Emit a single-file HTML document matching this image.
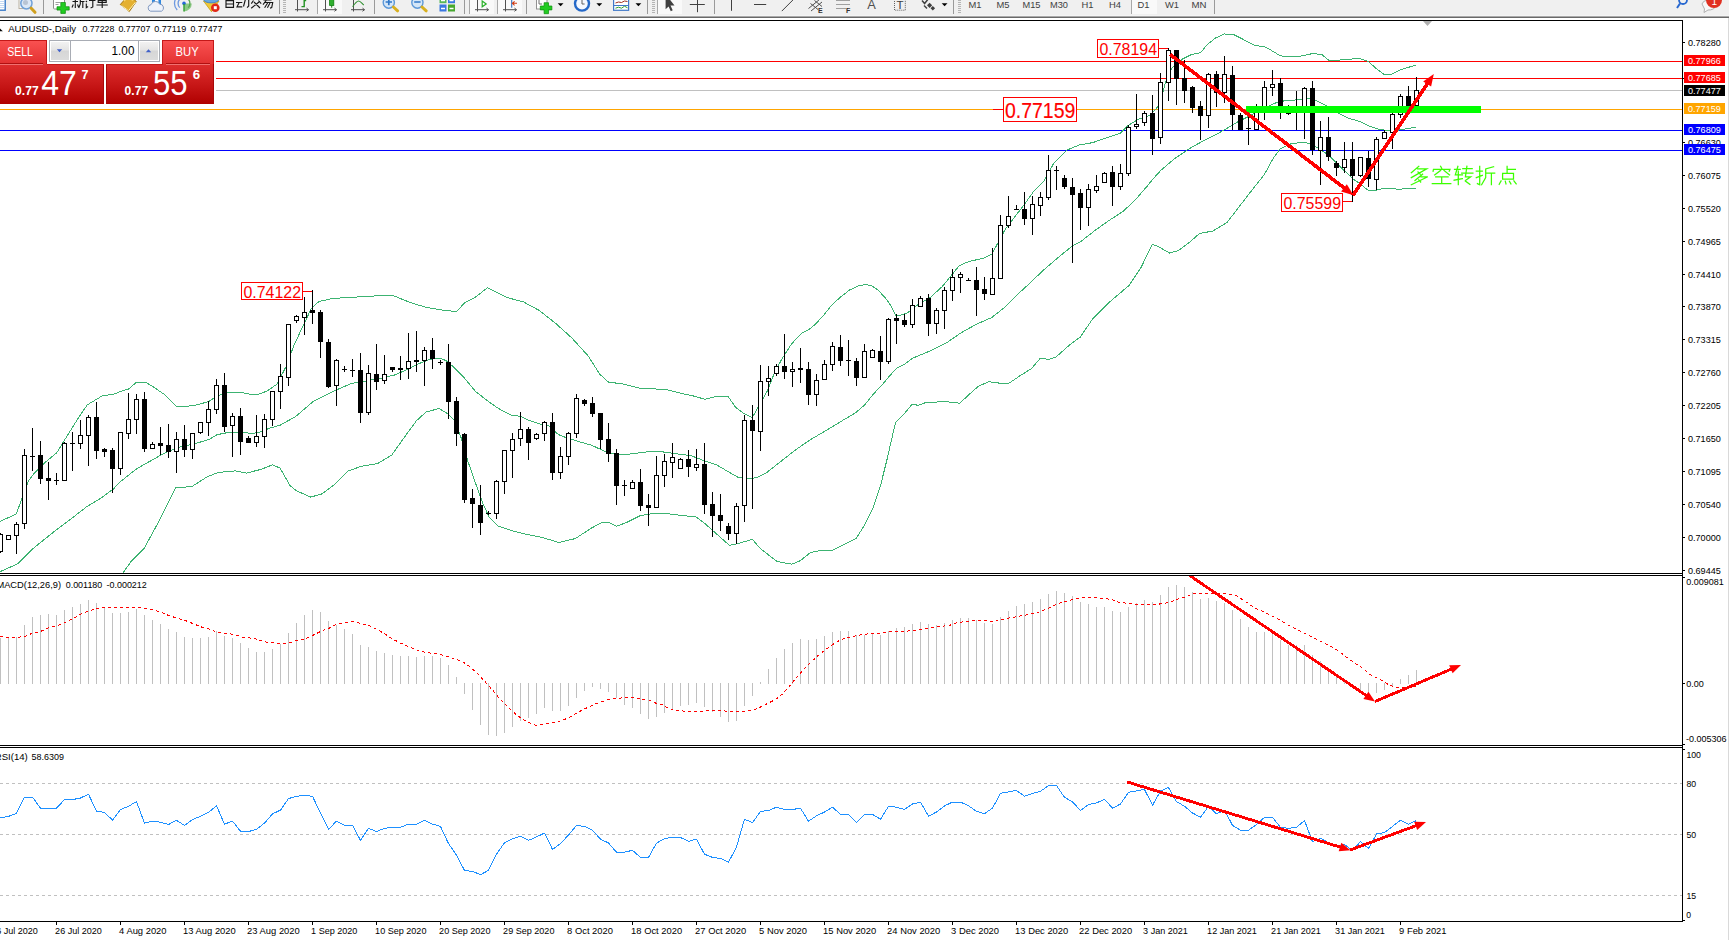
<!DOCTYPE html>
<html><head><meta charset="utf-8"><title>AUDUSD Daily</title>
<style>
html,body{margin:0;padding:0;background:#fff;}
body{width:1729px;height:940px;overflow:hidden;position:relative;font-family:"Liberation Sans",sans-serif;}
svg{position:absolute;left:0;top:0;display:block;}
text{font-family:"Liberation Sans",sans-serif;}
.ax{font-size:9.7px;fill:#000;}
.axw{font-size:9.7px;fill:#fff;}
.ce{shape-rendering:crispEdges;}
</style></head><body>
<svg width="1729" height="940" viewBox="0 0 1729 940">
<defs>
<linearGradient id="gTab" x1="0" y1="0" x2="0" y2="1"><stop offset="0" stop-color="#fa5252"/><stop offset="1" stop-color="#e23030"/></linearGradient>
<linearGradient id="gBig" x1="0" y1="0" x2="0" y2="1"><stop offset="0" stop-color="#de2e2e"/><stop offset="0.5" stop-color="#c81818"/><stop offset="1" stop-color="#b00000"/></linearGradient>
<linearGradient id="gBtn" x1="0" y1="0" x2="0" y2="1"><stop offset="0" stop-color="#f2f2f2"/><stop offset="0.45" stop-color="#e4e4e4"/><stop offset="0.5" stop-color="#d6d6d6"/><stop offset="1" stop-color="#dcdcdc"/></linearGradient>
<clipPath id="cMain"><rect x="0" y="21" width="1682" height="552"/></clipPath>
<clipPath id="cMacd"><rect x="0" y="576" width="1682" height="169"/></clipPath>
<clipPath id="cRsi"><rect x="0" y="748" width="1682" height="173"/></clipPath>
</defs>
<rect x="0" y="0" width="1729" height="940" fill="#fff"/>

<g class="ce">
<rect x="216" y="61" width="1466" height="1" fill="#ff0000"/>
<rect x="216" y="78" width="1466" height="1" fill="#ff0000"/>
<rect x="216" y="90" width="1466" height="1" fill="#c0c0c0"/>
<rect x="0" y="109" width="1682" height="1" fill="#ffa500"/>
<rect x="0" y="130" width="1682" height="1" fill="#0000ff"/>
<rect x="0" y="150" width="1682" height="1" fill="#0000ff"/>
</g>
<g class="ce" clip-path="url(#cMain)" fill="none" stroke="#3cb371" stroke-width="1">
<polyline points="0.0,521.5 16.4,513.9 21.8,498.6 28.3,481.2 34.9,472.5 43.6,463.7 56.7,452.8 65.4,438.7 76.3,421.2 87.2,404.9 102.5,395.7 113.4,394.4 120.3,391.5 128.6,389.0 136.6,382.1 145.2,382.1 153.5,387.0 164.6,394.6 176.3,406.3 187.4,406.3 196.4,405.0 208.8,401.5 216.4,396.2 222.7,393.9 231.0,392.2 242.0,392.5 250.3,394.2 259.5,394.0 267.1,391.0 276.7,384.4 286.3,366.2 294.0,345.1 303.5,325.0 311.2,308.7 318.9,301.5 332.3,298.6 344.9,297.6 353.3,297.2 391.9,295.0 409.8,302.4 426.0,307.3 445.5,310.6 456.8,311.5 464.9,302.4 474.6,297.6 487.6,287.8 507.1,297.6 523.3,301.8 539.5,310.6 555.8,323.5 572.0,338.1 588.2,356.0 599.5,373.8 607.7,381.9 623.9,384.2 639.7,388.2 652.8,388.9 665.5,389.4 682.5,393.6 695.3,396.4 704.9,399.4 716.6,396.4 728.3,396.8 735.7,407.4 744.2,413.8 752.3,417.6 759.1,405.7 767.6,390.4 774.9,371.6 781.8,359.2 791.5,344.0 801.2,333.6 808.1,330.1 815.0,324.6 823.3,315.6 831.6,305.2 839.9,297.6 849.6,290.0 858.0,286.0 866.0,284.5 872.0,286.0 878.0,290.0 885.6,298.3 891.1,305.9 896.0,315.6 899.4,315.6 907.5,312.7 919.0,304.0 930.5,297.3 942.0,286.8 951.5,275.3 959.2,265.7 968.8,261.5 984.1,258.1 991.8,254.3 997.5,243.7 1005.2,229.4 1014.7,216.9 1024.3,204.5 1033.8,191.2 1043.7,181.4 1053.5,163.7 1067.3,149.9 1079.1,145.0 1092.9,142.6 1106.6,137.7 1120.4,133.2 1128.3,125.3 1138.1,119.4 1149.9,115.5 1159.7,104.7 1162.9,92.4 1166.5,78.8 1171.9,68.0 1182.8,58.9 1191.8,54.4 1200.8,52.6 1206.3,45.4 1215.3,38.1 1224.4,34.0 1233.4,34.5 1242.4,39.0 1255.1,45.4 1266.0,47.2 1275.0,52.6 1280.5,55.9 1296.6,57.0 1312.8,53.5 1322.1,54.7 1329.0,60.5 1345.2,59.8 1359.1,58.2 1368.4,61.6 1377.6,69.7 1384.6,74.8 1391.5,74.4 1400.8,69.7 1415.8,65.1"/>
<polyline points="0.0,571.7 17.4,564.0 32.7,548.8 54.5,531.3 71.9,518.2 87.2,506.3 100.3,498.6 113.4,489.0 120.3,481.7 136.9,468.6 160.4,455.4 170.1,450.6 181.2,446.5 195.0,443.7 208.8,439.5 217.1,434.7 229.6,432.2 242.0,432.2 250.3,433.3 257.6,432.8 269.1,428.4 280.6,425.0 295.9,416.3 313.1,401.6 324.6,395.9 336.1,390.1 351.4,383.4 366.7,380.9 382.0,378.0 395.4,374.8 406.9,369.6 418.3,363.9 429.7,359.3 438.9,358.1 445.7,360.4 452.6,366.1 464.0,377.6 475.4,391.3 486.9,400.4 498.3,408.4 512.0,415.7 520.0,416.1 528.0,420.1 539.1,423.8 548.7,425.7 558.3,434.5 566.3,437.7 579.0,441.7 591.8,445.3 604.6,451.3 614.2,454.0 623.8,454.8 639.7,452.8 650.6,451.5 661.3,451.7 676.2,453.8 691.1,455.7 703.8,460.6 716.6,464.9 729.3,472.3 737.9,477.2 748.5,478.7 757.0,477.6 767.0,472.3 781.5,460.9 796.0,449.5 810.5,439.7 827.1,429.8 843.7,419.8 855.1,413.1 864.8,404.8 873.1,394.4 882.8,384.1 889.7,375.8 896.7,368.2 905.0,364.0 912.0,358.5 932.4,350.0 945.8,343.3 961.1,332.8 976.4,324.2 991.8,317.5 1005.2,306.9 1018.6,293.5 1030.0,283.0 1040.0,273.4 1043.7,270.0 1057.4,258.1 1073.2,245.3 1081.0,241.4 1094.8,230.6 1108.6,220.7 1122.4,211.9 1134.2,201.1 1147.9,185.3 1152.0,180.1 1161.0,170.2 1173.7,159.3 1188.2,149.4 1200.8,142.2 1215.3,134.9 1224.4,129.9 1237.0,122.3 1249.7,115.9 1260.5,109.6 1276.8,102.4 1285.9,100.5 1291.2,100.7 1300.7,99.1 1311.9,98.8 1326.3,105.5 1339.0,113.4 1348.6,118.2 1359.8,121.4 1369.3,126.2 1378.9,129.4 1391.7,131.0 1401.2,129.7 1415.6,127.3"/>
<polyline points="119.5,578.0 123.2,572.7 130.8,561.8 143.9,548.8 157.0,524.8 167.9,503.0 175.5,487.7 191.9,486.6 207.1,476.8 218.0,472.5 235.5,470.9 246.4,473.1 261.6,469.2 272.5,464.8 280.1,468.1 290.0,485.5 296.2,490.6 310.8,497.1 322.2,493.8 335.1,484.1 348.1,471.1 361.1,466.3 377.3,463.7 391.9,454.9 403.3,438.7 416.3,420.9 426.0,412.1 439.0,408.5 448.7,414.4 454.9,421.0 461.7,439.3 467.4,459.9 475.4,482.7 482.3,502.1 489.1,517.0 498.3,526.1 512.0,530.7 526.6,534.4 542.8,537.6 559.0,542.5 575.2,538.6 591.8,527.9 601.4,522.6 607.8,522.0 616.6,526.3 626.9,522.3 639.7,515.9 652.8,513.4 667.7,513.8 682.5,515.5 696.4,517.0 705.9,524.4 716.6,534.0 729.3,545.3 737.9,543.6 752.4,539.3 760.7,549.0 777.3,561.5 791.8,564.2 800.1,560.8 810.5,552.5 820.9,550.5 833.3,550.0 845.8,543.8 856.1,538.6 864.4,525.2 872.7,508.6 881.0,483.7 887.2,458.8 892.4,436.0 895.5,422.5 903.8,414.2 912.1,404.3 918.3,405.3 926.6,402.2 947.4,401.8 959.8,403.2 970.2,393.5 978.5,386.2 988.9,381.7 999.2,383.1 1008.6,383.4 1020.1,375.7 1031.6,368.5 1040.2,358.4 1048.9,359.3 1056.0,357.0 1069.0,345.5 1080.5,336.9 1092.0,319.7 1109.2,302.4 1129.3,285.2 1140.8,267.9 1152.3,244.4 1158.0,246.4 1169.5,253.0 1178.2,250.7 1189.7,242.1 1199.7,233.4 1212.6,231.1 1227.0,222.5 1238.5,207.6 1252.9,188.9 1264.4,174.5 1273.0,158.7 1280.2,148.7 1291.2,143.7 1303.9,142.1 1311.9,144.5 1319.9,149.3 1329.4,155.7 1335.8,162.1 1343.8,170.1 1351.8,178.0 1359.8,183.6 1367.7,190.0 1375.7,190.5 1383.7,188.1 1398.0,189.2 1415.6,188.4"/>
</g>
<g class="ce" clip-path="url(#cMain)">
<path d="M0.5 533V553M8.5 535V540M16.5 522V554M24.5 449V529M32.5 428V471M40.5 441V484M48.5 462V500M56.5 473V485M64.5 442V481M72.5 432V471M80.5 420V449M88.5 415V466M96.5 402V459M104.5 448V457M112.5 448V493M120.5 432V475M128.5 393V439M136.5 394V434M144.5 392V452M152.5 442V449M160.5 427V455M168.5 424V458M176.5 432V473M184.5 425V457M192.5 433V459M200.5 422V434M208.5 401V436M216.5 379V414M224.5 373V432M232.5 413V457M240.5 408V455M248.5 436V443M256.5 415V447M264.5 414V448M272.5 391V426M280.5 364V409M288.5 324V386M296.5 315V323M304.5 297V335M312.5 290V324M320.5 310V358M328.5 339V388M336.5 359V406M344.5 366V372M352.5 359V377M360.5 353V423M368.5 365V415M376.5 344V390M384.5 355V384M392.5 367V372M400.5 356V380M408.5 333V379M416.5 331V372M424.5 347V386M432.5 338V369M440.5 360V365M448.5 344V419M456.5 397V446M464.5 433V503M472.5 489V528M480.5 485V535M488.5 511V515M496.5 480V519M504.5 450V494M512.5 433V478M520.5 412V446M528.5 427V460M536.5 433V440M544.5 421V441M552.5 413V480M560.5 447V479M568.5 432V465M576.5 394V438M584.5 399V406M592.5 397V417M600.5 413V449M608.5 423V462M616.5 449V505M624.5 480V496M632.5 480V489M640.5 469V511M648.5 494V526M656.5 456V508M664.5 454V487M672.5 443V478M680.5 458V469M688.5 450V477M696.5 449V471M704.5 443V514M712.5 492V537M720.5 494V531M728.5 523V540M736.5 503V544M744.5 415V522M752.5 405V509M760.5 365V451M768.5 366V396M776.5 364V376M784.5 334V379M792.5 362V387M800.5 348V383M808.5 362V405M816.5 374V406M824.5 360V380M832.5 342V371M840.5 335V366M848.5 340V376M856.5 358V386M864.5 344V378M872.5 349V358M880.5 336V380M888.5 318V364M896.5 314V344M904.5 314V327M912.5 299V328M920.5 296V307M928.5 294V336M936.5 308V334M944.5 287V329M952.5 269V301M960.5 272V293M968.5 278V281M976.5 267V316M984.5 277V300M992.5 248V295M1000.5 215V279M1008.5 196V228M1016.5 205V210M1024.5 192V225M1032.5 196V235M1040.5 192V216M1048.5 155V200M1056.5 166V190M1064.5 175V189M1072.5 178V263M1080.5 189V230M1088.5 184V226M1096.5 175V193M1104.5 172V183M1112.5 166V206M1120.5 164V190M1128.5 125V176M1136.5 94V129M1144.5 111V126M1152.5 95V155M1160.5 73V144M1168.5 48V101M1176.5 50V105M1184.5 60V103M1192.5 86V113M1200.5 101V140M1208.5 73V128M1216.5 71V107M1224.5 56V103M1232.5 66V130M1240.5 113V130M1248.5 108V145M1256.5 104V130M1264.5 81V120M1272.5 70V96M1280.5 78V119M1288.5 105V115M1296.5 91V130M1304.5 87V139M1312.5 81V155M1320.5 121V185M1328.5 117V161M1336.5 161V176M1344.5 142V173M1352.5 142V202M1360.5 157V177M1368.5 151V187M1376.5 137V190M1384.5 130V139M1392.5 113V149M1400.5 94V118M1408.5 86V110M1416.5 77V111" stroke="#000" stroke-width="1" fill="none"/>
<path d="M-1.5 534.5H2.5V551.5H-1.5ZM6.5 535.5H10.5V539.5H6.5ZM14.5 524.5H18.5V535.5H14.5ZM22.5 455.5H26.5V523.5H22.5ZM62.5 443.5H66.5V480.5H62.5ZM78.5 435.5H82.5V443.5H78.5ZM86.5 417.5H90.5V435.5H86.5ZM118.5 432.5H122.5V468.5H118.5ZM126.5 419.5H130.5V433.5H126.5ZM134.5 399.5H138.5V419.5H134.5ZM150.5 444.5H154.5V448.5H150.5ZM174.5 439.5H178.5V451.5H174.5ZM190.5 433.5H194.5V449.5H190.5ZM198.5 422.5H202.5V432.5H198.5ZM206.5 409.5H210.5V422.5H206.5ZM214.5 385.5H218.5V409.5H214.5ZM230.5 416.5H234.5V425.5H230.5ZM254.5 436.5H258.5V442.5H254.5ZM262.5 419.5H266.5V436.5H262.5ZM270.5 391.5H274.5V419.5H270.5ZM278.5 376.5H282.5V391.5H278.5ZM286.5 324.5H290.5V377.5H286.5ZM294.5 316.5H298.5V320.5H294.5ZM302.5 312.5H306.5V317.5H302.5ZM334.5 360.5H338.5V385.5H334.5ZM366.5 373.5H370.5V412.5H366.5ZM382.5 374.5H386.5V380.5H382.5ZM406.5 361.5H410.5V368.5H406.5ZM422.5 350.5H426.5V360.5H422.5ZM494.5 481.5H498.5V513.5H494.5ZM502.5 450.5H506.5V481.5H502.5ZM510.5 439.5H514.5V450.5H510.5ZM518.5 429.5H522.5V438.5H518.5ZM534.5 434.5H538.5V438.5H534.5ZM542.5 422.5H546.5V433.5H542.5ZM558.5 456.5H562.5V472.5H558.5ZM566.5 433.5H570.5V456.5H566.5ZM574.5 398.5H578.5V433.5H574.5ZM630.5 482.5H634.5V488.5H630.5ZM654.5 475.5H658.5V507.5H654.5ZM662.5 461.5H666.5V475.5H662.5ZM670.5 457.5H674.5V462.5H670.5ZM678.5 459.5H682.5V468.5H678.5ZM694.5 464.5H698.5V467.5H694.5ZM734.5 506.5H738.5V533.5H734.5ZM742.5 420.5H746.5V505.5H742.5ZM758.5 381.5H762.5V431.5H758.5ZM766.5 378.5H770.5V381.5H766.5ZM774.5 366.5H778.5V373.5H774.5ZM790.5 369.5H794.5V371.5H790.5ZM814.5 380.5H818.5V394.5H814.5ZM822.5 364.5H826.5V379.5H822.5ZM830.5 346.5H834.5V364.5H830.5ZM862.5 351.5H866.5V377.5H862.5ZM870.5 350.5H874.5V357.5H870.5ZM886.5 319.5H890.5V361.5H886.5ZM910.5 305.5H914.5V324.5H910.5ZM918.5 298.5H922.5V306.5H918.5ZM934.5 310.5H938.5V323.5H934.5ZM942.5 290.5H946.5V310.5H942.5ZM950.5 277.5H954.5V290.5H950.5ZM958.5 274.5H962.5V277.5H958.5ZM990.5 278.5H994.5V294.5H990.5ZM998.5 225.5H1002.5V278.5H998.5ZM1006.5 216.5H1010.5V225.5H1006.5ZM1030.5 204.5H1034.5V218.5H1030.5ZM1038.5 197.5H1042.5V205.5H1038.5ZM1046.5 170.5H1050.5V197.5H1046.5ZM1086.5 189.5H1090.5V207.5H1086.5ZM1094.5 186.5H1098.5V190.5H1094.5ZM1102.5 173.5H1106.5V182.5H1102.5ZM1118.5 173.5H1122.5V186.5H1118.5ZM1126.5 127.5H1130.5V173.5H1126.5ZM1134.5 124.5H1138.5V126.5H1134.5ZM1142.5 113.5H1146.5V122.5H1142.5ZM1158.5 82.5H1162.5V137.5H1158.5ZM1166.5 50.5H1170.5V82.5H1166.5ZM1206.5 74.5H1210.5V115.5H1206.5ZM1222.5 74.5H1226.5V92.5H1222.5ZM1254.5 112.5H1258.5V129.5H1254.5ZM1262.5 87.5H1266.5V112.5H1262.5ZM1270.5 84.5H1274.5V87.5H1270.5ZM1302.5 88.5H1306.5V110.5H1302.5ZM1318.5 137.5H1322.5V150.5H1318.5ZM1342.5 159.5H1346.5V167.5H1342.5ZM1358.5 157.5H1362.5V175.5H1358.5ZM1374.5 139.5H1378.5V179.5H1374.5ZM1382.5 132.5H1386.5V138.5H1382.5ZM1390.5 114.5H1394.5V132.5H1390.5ZM1398.5 96.5H1402.5V114.5H1398.5ZM1414.5 90.5H1418.5V105.5H1414.5Z" stroke="#000" stroke-width="1" fill="#fff"/>
<path d="M30 456.5H35M38.5 455.5H42.5V478.5H38.5ZM46.5 478.5H50.5V480.5H46.5ZM54 480.5H59M70 443.5H75M94.5 417.5H98.5V450.5H94.5ZM102.5 449.5H106.5V451.5H102.5ZM110.5 450.5H114.5V468.5H110.5ZM142.5 399.5H146.5V448.5H142.5ZM158.5 443.5H162.5V445.5H158.5ZM166.5 445.5H170.5V451.5H166.5ZM182.5 439.5H186.5V449.5H182.5ZM222.5 385.5H226.5V426.5H222.5ZM238.5 416.5H242.5V441.5H238.5ZM246.5 438.5H250.5V442.5H246.5ZM310.5 310.5H314.5V312.5H310.5ZM318.5 312.5H322.5V341.5H318.5ZM326.5 342.5H330.5V386.5H326.5ZM342 369.5H347M350 370.5H355M358.5 370.5H362.5V412.5H358.5ZM374.5 374.5H378.5V381.5H374.5ZM390.5 367.5H394.5V369.5H390.5ZM398.5 368.5H402.5V369.5H398.5ZM414.5 360.5H418.5V361.5H414.5ZM430.5 350.5H434.5V358.5H430.5ZM438 362.5H443M446.5 362.5H450.5V401.5H446.5ZM454.5 401.5H458.5V433.5H454.5ZM462.5 434.5H466.5V499.5H462.5ZM470.5 498.5H474.5V503.5H470.5ZM478.5 505.5H482.5V522.5H478.5ZM486 513.5H491M526.5 429.5H530.5V442.5H526.5ZM550.5 422.5H554.5V472.5H550.5ZM582.5 400.5H586.5V403.5H582.5ZM590.5 403.5H594.5V413.5H590.5ZM598.5 413.5H602.5V439.5H598.5ZM606.5 439.5H610.5V453.5H606.5ZM614.5 453.5H618.5V485.5H614.5ZM622 485.5H627M638.5 482.5H642.5V505.5H638.5ZM646.5 505.5H650.5V507.5H646.5ZM686.5 459.5H690.5V466.5H686.5ZM702.5 464.5H706.5V504.5H702.5ZM710.5 504.5H714.5V515.5H710.5ZM718.5 515.5H722.5V520.5H718.5ZM726.5 526.5H730.5V533.5H726.5ZM750.5 420.5H754.5V430.5H750.5ZM782.5 366.5H786.5V371.5H782.5ZM798.5 368.5H802.5V369.5H798.5ZM806.5 369.5H810.5V394.5H806.5ZM838.5 347.5H842.5V360.5H838.5ZM846 360.5H851M854.5 361.5H858.5V377.5H854.5ZM878.5 351.5H882.5V361.5H878.5ZM894.5 318.5H898.5V320.5H894.5ZM902.5 320.5H906.5V324.5H902.5ZM926.5 298.5H930.5V323.5H926.5ZM966 280.5H971M974.5 280.5H978.5V289.5H974.5ZM982.5 289.5H986.5V293.5H982.5ZM1014 209.5H1019M1022.5 209.5H1026.5V218.5H1022.5ZM1054 170.5H1059M1062.5 178.5H1066.5V186.5H1062.5ZM1070.5 187.5H1074.5V194.5H1070.5ZM1078.5 193.5H1082.5V207.5H1078.5ZM1110.5 172.5H1114.5V186.5H1110.5ZM1150.5 113.5H1154.5V138.5H1150.5ZM1174.5 50.5H1178.5V78.5H1174.5ZM1182.5 78.5H1186.5V90.5H1182.5ZM1190.5 87.5H1194.5V107.5H1190.5ZM1198.5 106.5H1202.5V115.5H1198.5ZM1214.5 74.5H1218.5V92.5H1214.5ZM1230.5 75.5H1234.5V114.5H1230.5ZM1238.5 115.5H1242.5V129.5H1238.5ZM1246 128.5H1251M1278.5 83.5H1282.5V109.5H1278.5ZM1286 113.5H1291M1294 110.5H1299M1310.5 88.5H1314.5V149.5H1310.5ZM1326.5 137.5H1330.5V156.5H1326.5ZM1334.5 163.5H1338.5V167.5H1334.5ZM1350.5 159.5H1354.5V175.5H1350.5ZM1366.5 158.5H1370.5V178.5H1366.5ZM1406.5 96.5H1410.5V105.5H1406.5Z" stroke="#000" stroke-width="1" fill="#000"/>
</g>
<rect class="ce" x="1246" y="106" width="235" height="7" fill="#00ff00"/>
<g><line x1="1170.0" y1="54.4" x2="1345.6" y2="189.1" stroke="#ff0000" stroke-width="3.6" shape-rendering="crispEdges"/><polygon points="1353.5,195.2 1341.1,191.6 1346.8,184.2" fill="#ff0000"/></g>
<g><line x1="1353.0" y1="195.5" x2="1428.3" y2="82.3" stroke="#ff0000" stroke-width="3.6" shape-rendering="crispEdges"/><polygon points="1433.8,74.0 1431.1,86.6 1423.2,81.4" fill="#ff0000"/></g>
<rect class="ce" x="1097.5" y="39.5" width="61" height="18" fill="#fff" stroke="#ff0000" stroke-width="1"/><text x="1099.5" y="55" font-size="16" fill="#ff0000" textLength="57.5" lengthAdjust="spacingAndGlyphs">0.78194</text>
<rect class="ce" x="1159" y="48" width="9" height="1" fill="#ff0000"/>
<rect class="ce" x="241.5" y="282.5" width="61" height="17" fill="#fff" stroke="#ff0000" stroke-width="1"/><text x="243.5" y="297.5" font-size="16" fill="#ff0000" textLength="57.5" lengthAdjust="spacingAndGlyphs">0.74122</text>
<rect class="ce" x="303" y="291" width="9" height="1" fill="#ff0000"/>
<rect class="ce" x="1281.5" y="193.5" width="61" height="18" fill="#fff" stroke="#ff0000" stroke-width="1"/><text x="1283.5" y="209" font-size="16" fill="#ff0000" textLength="57.5" lengthAdjust="spacingAndGlyphs">0.75599</text>
<rect class="ce" x="1343" y="201" width="9" height="1" fill="#ff0000"/>
<rect class="ce" x="993" y="109" width="10" height="1" fill="#ff0000"/>
<rect class="ce" x="1003.5" y="97.5" width="73" height="24" fill="#fff" stroke="#ff0000" stroke-width="1"/><text transform="translate(1005 118.2) scale(1 1.14)" x="0" y="0" font-size="19.5" fill="#ff0000" stroke="#ff0000" stroke-width="0.15" textLength="70.3" lengthAdjust="spacingAndGlyphs">0.77159</text>
<g class="ce">
<path d="M0.5 638V684M8.5 638V684M16.5 637V684M24.5 625V684M32.5 617V684M40.5 615V684M48.5 614V684M56.5 615V684M64.5 610V684M72.5 607V684M80.5 604V684M88.5 600V684M96.5 603V684M104.5 607V684M112.5 613V684M120.5 613V684M128.5 612V684M136.5 609V684M144.5 615V684M152.5 620V684M160.5 624V684M168.5 629V684M176.5 632V684M184.5 637V684M192.5 638V684M200.5 638V684M208.5 637V684M216.5 631V684M224.5 636V684M232.5 638V684M240.5 643V684M248.5 648V684M256.5 652V684M264.5 652V684M272.5 649V684M280.5 644V684M288.5 633V684M296.5 623V684M304.5 615V684M312.5 610V684M320.5 612V684M328.5 621V684M336.5 625V684M344.5 629V684M352.5 634V684M360.5 645V684M368.5 647V684M376.5 651V684M384.5 653V684M392.5 655V684M400.5 656V684M408.5 656V684M416.5 657V684M424.5 656V684M432.5 656V684M440.5 658V684M448.5 665V684M456.5 677V684M464.5 683V694M472.5 683V710M480.5 683V725M488.5 683V735M496.5 683V736M504.5 683V733M512.5 683V727M520.5 683V721M528.5 683V718M536.5 683V714M544.5 683V708M552.5 683V711M560.5 683V711M568.5 683V706M576.5 683V698M584.5 683V691M592.5 683V687M600.5 683V689M608.5 683V692M616.5 683V698M624.5 683V705M632.5 683V708M640.5 683V714M648.5 683V719M656.5 683V717M664.5 683V713M672.5 683V709M680.5 683V706M688.5 683V705M696.5 683V703M704.5 683V707M712.5 683V712M720.5 683V717M728.5 683V722M736.5 683V721M744.5 683V706M752.5 683V696M760.5 682V684M768.5 669V684M776.5 658V684M784.5 649V684M792.5 643V684M800.5 639V684M808.5 640V684M816.5 639V684M824.5 636V684M832.5 632V684M840.5 631V684M848.5 631V684M856.5 635V684M864.5 635V684M872.5 633V684M880.5 635V684M888.5 631V684M896.5 628V684M904.5 627V684M912.5 624V684M920.5 622V684M928.5 624V684M936.5 625V684M944.5 623V684M952.5 620V684M960.5 618V684M968.5 618V684M976.5 620V684M984.5 623V684M992.5 624V684M1000.5 617V684M1008.5 611V684M1016.5 606V684M1024.5 604V684M1032.5 602V684M1040.5 599V684M1048.5 594V684M1056.5 591V684M1064.5 593V684M1072.5 596V684M1080.5 602V684M1088.5 604V684M1096.5 607V684M1104.5 607V684M1112.5 611V684M1120.5 612V684M1128.5 607V684M1136.5 603V684M1144.5 600V684M1152.5 602V684M1160.5 595V684M1168.5 587V684M1176.5 585V684M1184.5 587V684M1192.5 592V684M1200.5 599V684M1208.5 598V684M1216.5 601V684M1224.5 603V684M1232.5 610V684M1240.5 619V684M1248.5 627V684M1256.5 632V684M1264.5 632V684M1272.5 634V684M1280.5 640V684M1288.5 645V684M1296.5 645V684M1304.5 645V684M1312.5 655V684M1320.5 661V684M1328.5 670V684M1336.5 677V684M1344.5 681V684M1352.5 683V683M1360.5 683V693M1368.5 683V696M1376.5 683V693M1384.5 683V690M1392.5 683V686M1400.5 679V684M1408.5 675V684M1416.5 670V684" stroke="#c0c0c0" stroke-width="1" fill="none"/>
</g>
<polyline points="0.0,636.9 16.3,637.4 24.4,636.5 32.6,633.2 40.7,631.4 48.8,627.8 57.0,625.7 65.1,622.4 72.4,619.0 80.5,614.4 88.6,610.8 96.8,608.8 104.9,607.6 137.5,607.6 144.7,608.5 152.9,609.9 161.0,612.1 169.1,615.7 177.3,618.1 185.4,620.6 193.6,623.8 201.7,627.1 209.8,629.3 217.1,632.0 225.2,633.2 233.4,634.3 241.5,636.9 249.6,638.0 256.9,639.2 265.0,641.9 273.2,642.8 281.3,643.4 288.0,643.4 296.1,640.5 304.3,639.2 312.4,635.6 320.6,631.4 328.7,628.4 336.8,624.2 345.0,622.9 353.1,621.5 360.4,623.5 368.5,625.1 376.6,629.3 384.8,633.8 392.9,639.2 401.1,643.4 409.2,646.8 417.3,650.1 425.5,652.4 432.7,653.3 440.9,654.6 449.0,656.8 457.1,659.7 462.6,661.8 468.9,666.0 476.1,672.1 484.3,680.8 492.4,689.9 500.6,699.8 508.7,708.0 516.8,715.2 525.0,720.6 532.2,724.2 536.7,725.5 544.9,724.2 553.0,722.8 561.2,720.6 568.4,717.9 576.0,713.4 584.1,709.2 592.3,705.2 600.4,702.0 608.6,699.5 616.7,698.6 624.8,697.6 633.0,697.6 641.1,698.9 648.4,699.5 652.0,701.6 656.5,703.4 661.0,704.3 668.3,708.0 673.7,709.8 684.5,711.2 702.6,711.2 713.5,710.3 720.7,710.3 728.9,711.6 744.2,711.6 753.3,710.3 758.7,708.0 764.1,705.2 771.4,701.6 776.8,698.6 783.1,693.5 788.6,687.2 793.1,681.7 798.5,675.4 804.8,668.2 809.4,663.6 816.6,656.9 822.0,652.4 827.4,648.3 832.9,644.3 840.1,640.1 845.5,638.3 852.8,636.5 864.0,634.2 882.1,633.2 888.4,632.0 904.7,631.4 921.0,629.3 926.4,628.4 936.4,627.1 952.6,624.7 957.2,622.4 968.9,621.5 977.1,620.2 987.0,620.2 993.3,621.7 1001.5,619.9 1008.7,618.1 1016.9,616.6 1025.0,615.2 1032.2,613.4 1038.6,612.1 1044.9,609.7 1052.1,606.7 1056.7,603.9 1064.8,601.8 1072.0,599.8 1080.2,598.2 1086.5,597.3 1092.8,597.3 1104.6,598.5 1112.7,599.8 1116.4,601.8 1128.1,603.4 1135.4,604.3 1152.0,604.8 1161.5,603.8 1169.1,602.5 1175.7,599.7 1184.3,597.4 1192.8,594.0 1201.3,593.4 1208.9,593.0 1227.9,594.0 1237.4,596.2 1246.9,602.5 1255.4,608.2 1265.8,612.9 1277.2,618.6 1288.6,625.3 1300.0,631.0 1311.4,636.7 1322.7,642.3 1332.2,647.1 1339.8,651.8 1349.3,659.4 1360.7,667.0 1370.2,674.6 1379.7,679.3 1389.1,685.0 1398.6,687.9 1416.0,686.0" class="ce" fill="none" stroke="#ff0000" stroke-width="1" stroke-dasharray="3 3"/>
<g class="ce">
<line x1="0" y1="783.5" x2="1682" y2="783.5" stroke="#c0c0c0" stroke-width="1" stroke-dasharray="3 3"/>
<line x1="0" y1="834.5" x2="1682" y2="834.5" stroke="#c0c0c0" stroke-width="1" stroke-dasharray="3 3"/>
<line x1="0" y1="895.5" x2="1682" y2="895.5" stroke="#c0c0c0" stroke-width="1" stroke-dasharray="3 3"/>
</g>
<polyline points="0.5,817.8 8.5,816.4 16.5,813.4 24.5,797.1 32.5,797.1 40.5,808.2 48.5,808.2 56.5,808.2 64.5,799.6 72.5,799.6 80.5,798.0 88.5,794.2 96.5,811.1 104.5,812.4 112.5,820.1 120.5,809.5 128.5,806.3 136.5,801.5 144.5,823.1 152.5,821.2 160.5,822.2 168.5,824.5 176.5,820.3 184.5,825.4 192.5,819.7 200.5,816.2 208.5,812.4 216.5,805.7 224.5,824.1 232.5,821.2 240.5,831.2 248.5,831.6 256.5,829.3 264.5,823.1 272.5,813.9 280.5,810.1 288.5,798.6 296.5,796.3 304.5,795.4 312.5,796.3 320.5,813.0 328.5,829.3 336.5,821.2 344.5,825.4 352.5,825.4 360.5,840.4 368.5,828.3 376.5,831.6 384.5,828.3 392.5,827.3 400.5,827.3 408.5,824.1 416.5,824.1 424.5,820.1 432.5,824.1 440.5,826.4 448.5,843.6 456.5,855.1 464.5,870.4 472.5,871.4 480.5,874.6 488.5,870.4 496.5,854.2 504.5,842.7 512.5,838.8 520.5,836.3 528.5,840.4 536.5,836.9 544.5,833.1 552.5,849.4 560.5,843.6 568.5,835.0 576.5,825.4 584.5,826.4 592.5,830.2 600.5,839.2 608.5,843.0 616.5,852.2 624.5,852.2 632.5,850.3 640.5,857.4 648.5,857.4 656.5,843.2 664.5,838.5 672.5,837.5 680.5,837.5 688.5,841.3 696.5,839.2 704.5,854.2 712.5,857.4 720.5,858.4 728.5,862.2 736.5,847.1 744.5,819.3 752.5,822.6 760.5,811.4 768.5,810.5 776.5,807.2 784.5,809.5 792.5,809.5 800.5,808.2 808.5,821.2 816.5,815.9 824.5,812.0 832.5,807.2 840.5,814.3 848.5,814.3 856.5,822.6 864.5,814.3 872.5,814.3 880.5,819.3 888.5,806.3 896.5,807.2 904.5,809.5 912.5,804.0 920.5,802.1 928.5,816.2 936.5,812.0 944.5,805.9 952.5,802.1 960.5,802.1 968.5,805.7 976.5,811.4 984.5,813.6 992.5,808.2 1000.5,793.3 1008.5,791.9 1016.5,790.4 1024.5,796.3 1032.5,793.3 1040.5,791.3 1048.5,785.6 1056.5,785.6 1064.5,797.3 1072.5,801.9 1080.5,810.5 1088.5,804.4 1096.5,803.0 1104.5,799.2 1112.5,808.2 1120.5,804.0 1128.5,792.3 1136.5,791.0 1144.5,789.4 1152.5,805.3 1160.5,791.0 1168.5,787.5 1176.5,801.5 1184.5,806.3 1192.5,813.0 1200.5,817.2 1208.5,806.3 1216.5,813.9 1224.5,810.1 1232.5,825.4 1240.5,830.2 1248.5,830.2 1256.5,824.5 1264.5,817.4 1272.5,817.4 1280.5,827.3 1288.5,828.3 1296.5,827.3 1304.5,820.6 1312.5,841.7 1320.5,838.3 1328.5,842.7 1336.5,845.5 1344.5,844.6 1352.5,850.3 1360.5,841.7 1368.5,848.4 1376.5,834.0 1384.5,832.5 1392.5,826.4 1400.5,820.3 1408.5,824.1 1416.5,820.6" class="ce" fill="none" stroke="#1e90ff" stroke-width="1"/>
<g clip-path="url(#cMacd)"><line x1="1186.0" y1="573.0" x2="1367.6" y2="696.4" stroke="#ff0000" stroke-width="2.9" shape-rendering="crispEdges"/><polygon points="1375.0,701.5 1363.4,699.0 1368.4,691.7" fill="#ff0000"/></g>
<g><line x1="1375.0" y1="701.5" x2="1452.7" y2="668.5" stroke="#ff0000" stroke-width="2.9" shape-rendering="crispEdges"/><polygon points="1461.0,665.0 1452.6,673.3 1449.2,665.2" fill="#ff0000"/></g>
<g><line x1="1127.3" y1="782.0" x2="1341.9" y2="847.6" stroke="#ff0000" stroke-width="2.9" shape-rendering="crispEdges"/><polygon points="1350.5,850.2 1338.7,851.2 1341.3,842.8" fill="#ff0000"/></g>
<g><line x1="1350.0" y1="850.0" x2="1417.6" y2="825.1" stroke="#ff0000" stroke-width="2.9" shape-rendering="crispEdges"/><polygon points="1426.0,822.0 1417.2,829.9 1414.2,821.7" fill="#ff0000"/></g>
<g class="ce" fill="#000">
<rect x="0" y="20" width="1683" height="1"/>
<rect x="0" y="573" width="1683" height="1"/>
<rect x="0" y="575" width="1683" height="1"/>
<rect x="0" y="745" width="1683" height="1"/>
<rect x="0" y="747" width="1683" height="1"/>
<rect x="0" y="921" width="1683" height="1"/>
<rect x="1682" y="20" width="1" height="902"/>
</g>
<g class="ce" fill="#000">
<rect x="1683" y="42" width="2" height="1"/>
<rect x="1683" y="142" width="2" height="1"/>
<rect x="1683" y="175" width="2" height="1"/>
<rect x="1683" y="208" width="2" height="1"/>
<rect x="1683" y="241" width="2" height="1"/>
<rect x="1683" y="274" width="2" height="1"/>
<rect x="1683" y="306" width="2" height="1"/>
<rect x="1683" y="339" width="2" height="1"/>
<rect x="1683" y="372" width="2" height="1"/>
<rect x="1683" y="405" width="2" height="1"/>
<rect x="1683" y="438" width="2" height="1"/>
<rect x="1683" y="471" width="2" height="1"/>
<rect x="1683" y="504" width="2" height="1"/>
<rect x="1683" y="537" width="2" height="1"/>
<rect x="1683" y="570" width="2" height="1"/>
<rect x="1683" y="78" width="2" height="1"/>
<rect x="1683" y="577" width="2" height="1"/>
<rect x="1683" y="683" width="2" height="1"/>
<rect x="1683" y="744" width="2" height="1"/>
<rect x="1683" y="749" width="2" height="1"/>
<rect x="1683" y="920" width="2" height="1"/>
</g>
<text class="ax" x="1688" y="45.7" textLength="32.8" lengthAdjust="spacingAndGlyphs">0.78280</text>
<text class="ax" x="1688" y="145.7" textLength="32.8" lengthAdjust="spacingAndGlyphs">0.76630</text>
<text class="ax" x="1688" y="178.7" textLength="32.8" lengthAdjust="spacingAndGlyphs">0.76075</text>
<text class="ax" x="1688" y="211.7" textLength="32.8" lengthAdjust="spacingAndGlyphs">0.75520</text>
<text class="ax" x="1688" y="244.7" textLength="32.8" lengthAdjust="spacingAndGlyphs">0.74965</text>
<text class="ax" x="1688" y="277.7" textLength="32.8" lengthAdjust="spacingAndGlyphs">0.74410</text>
<text class="ax" x="1688" y="309.7" textLength="32.8" lengthAdjust="spacingAndGlyphs">0.73870</text>
<text class="ax" x="1688" y="342.7" textLength="32.8" lengthAdjust="spacingAndGlyphs">0.73315</text>
<text class="ax" x="1688" y="375.7" textLength="32.8" lengthAdjust="spacingAndGlyphs">0.72760</text>
<text class="ax" x="1688" y="408.7" textLength="32.8" lengthAdjust="spacingAndGlyphs">0.72205</text>
<text class="ax" x="1688" y="441.7" textLength="32.8" lengthAdjust="spacingAndGlyphs">0.71650</text>
<text class="ax" x="1688" y="474.7" textLength="32.8" lengthAdjust="spacingAndGlyphs">0.71095</text>
<text class="ax" x="1688" y="507.7" textLength="32.8" lengthAdjust="spacingAndGlyphs">0.70540</text>
<text class="ax" x="1688" y="540.7" textLength="32.8" lengthAdjust="spacingAndGlyphs">0.70000</text>
<text class="ax" x="1688" y="573.7" textLength="32.8" lengthAdjust="spacingAndGlyphs">0.69445</text>
<text class="ax" x="1686.3" y="585" textLength="37.5" lengthAdjust="spacingAndGlyphs">0.009081</text>
<text class="ax" x="1686.3" y="686.5" textLength="17.6" lengthAdjust="spacingAndGlyphs">0.00</text>
<text class="ax" x="1686" y="742" textLength="40.6" lengthAdjust="spacingAndGlyphs">-0.005306</text>
<text class="ax" x="1686.4" y="758" textLength="14.6" lengthAdjust="spacingAndGlyphs">100</text>
<text class="ax" x="1686.4" y="786.5" textLength="9.7" lengthAdjust="spacingAndGlyphs">80</text>
<text class="ax" x="1686.4" y="837.5" textLength="9.7" lengthAdjust="spacingAndGlyphs">50</text>
<text class="ax" x="1686.4" y="898.5" textLength="9.7" lengthAdjust="spacingAndGlyphs">15</text>
<text class="ax" x="1686.2" y="917.8" textLength="4.8" lengthAdjust="spacingAndGlyphs">0</text>
<rect class="ce" x="1684" y="55" width="41" height="11" fill="#ff0000"/>
<text class="axw" x="1688" y="63.9" textLength="32.8" lengthAdjust="spacingAndGlyphs">0.77966</text>
<rect class="ce" x="1684" y="72" width="41" height="11" fill="#ff0000"/>
<text class="axw" x="1688" y="80.9" textLength="32.8" lengthAdjust="spacingAndGlyphs">0.77685</text>
<rect class="ce" x="1684" y="85" width="41" height="11" fill="#000000"/>
<text class="axw" x="1688" y="93.9" textLength="32.8" lengthAdjust="spacingAndGlyphs">0.77477</text>
<rect class="ce" x="1684" y="103" width="41" height="11" fill="#ffa500"/>
<text class="axw" x="1688" y="111.9" textLength="32.8" lengthAdjust="spacingAndGlyphs">0.77159</text>
<rect class="ce" x="1684" y="124" width="41" height="11" fill="#0000ff"/>
<text class="axw" x="1688" y="132.9" textLength="32.8" lengthAdjust="spacingAndGlyphs">0.76809</text>
<rect class="ce" x="1684" y="144" width="41" height="11" fill="#0000ff"/>
<text class="axw" x="1688" y="152.9" textLength="32.8" lengthAdjust="spacingAndGlyphs">0.76475</text>
<g class="ce" fill="#000">
<rect x="56" y="922" width="1" height="3"/>
<rect x="120" y="922" width="1" height="3"/>
<rect x="184" y="922" width="1" height="3"/>
<rect x="248" y="922" width="1" height="3"/>
<rect x="312" y="922" width="1" height="3"/>
<rect x="376" y="922" width="1" height="3"/>
<rect x="440" y="922" width="1" height="3"/>
<rect x="504" y="922" width="1" height="3"/>
<rect x="568" y="922" width="1" height="3"/>
<rect x="632" y="922" width="1" height="3"/>
<rect x="696" y="922" width="1" height="3"/>
<rect x="760" y="922" width="1" height="3"/>
<rect x="824" y="922" width="1" height="3"/>
<rect x="888" y="922" width="1" height="3"/>
<rect x="952" y="922" width="1" height="3"/>
<rect x="1016" y="922" width="1" height="3"/>
<rect x="1080" y="922" width="1" height="3"/>
<rect x="1144" y="922" width="1" height="3"/>
<rect x="1208" y="922" width="1" height="3"/>
<rect x="1272" y="922" width="1" height="3"/>
<rect x="1336" y="922" width="1" height="3"/>
<rect x="1400" y="922" width="1" height="3"/>
</g>
<text x="-8.9" y="933.8" font-size="9.05" fill="#000">16 Jul 2020</text>
<text x="55.1" y="933.8" font-size="9.05" fill="#000">26 Jul 2020</text>
<text x="119.1" y="933.8" font-size="9.4" fill="#000">4 Aug 2020</text>
<text x="183.1" y="933.8" font-size="9.4" fill="#000">13 Aug 2020</text>
<text x="247.1" y="933.8" font-size="9.4" fill="#000">23 Aug 2020</text>
<text x="311.1" y="933.8" font-size="9.05" fill="#000">1 Sep 2020</text>
<text x="375.1" y="933.8" font-size="9.05" fill="#000">10 Sep 2020</text>
<text x="439.1" y="933.8" font-size="9.05" fill="#000">20 Sep 2020</text>
<text x="503.1" y="933.8" font-size="9.05" fill="#000">29 Sep 2020</text>
<text x="567.1" y="933.8" font-size="9.4" fill="#000">8 Oct 2020</text>
<text x="631.1" y="933.8" font-size="9.4" fill="#000">18 Oct 2020</text>
<text x="695.1" y="933.8" font-size="9.4" fill="#000">27 Oct 2020</text>
<text x="759.1" y="933.8" font-size="9.4" fill="#000">5 Nov 2020</text>
<text x="823.1" y="933.8" font-size="9.4" fill="#000">15 Nov 2020</text>
<text x="887.1" y="933.8" font-size="9.4" fill="#000">24 Nov 2020</text>
<text x="951.1" y="933.8" font-size="9.4" fill="#000">3 Dec 2020</text>
<text x="1015.1" y="933.8" font-size="9.4" fill="#000">13 Dec 2020</text>
<text x="1079.1" y="933.8" font-size="9.4" fill="#000">22 Dec 2020</text>
<text x="1143.1" y="933.8" font-size="9.05" fill="#000">3 Jan 2021</text>
<text x="1207.1" y="933.8" font-size="9.05" fill="#000">12 Jan 2021</text>
<text x="1271.1" y="933.8" font-size="9.05" fill="#000">21 Jan 2021</text>
<text x="1335.1" y="933.8" font-size="9.05" fill="#000">31 Jan 2021</text>
<text x="1399.1" y="933.8" font-size="9.4" fill="#000">9 Feb 2021</text>
<rect x="0" y="0" width="1729" height="15" fill="#f0f0f0"/>
<rect class="ce" x="0" y="15" width="1729" height="1" fill="#f4f4f4"/>
<rect class="ce" x="0" y="16" width="1729" height="1" fill="#a9a9a9"/>
<rect class="ce" x="0" y="17" width="1729" height="1" fill="#696969"/>
<rect class="ce" x="1728" y="18" width="1" height="922" fill="#d9d9d9"/>
<rect class="ce" x="43" y="0" width="1" height="14" fill="#9a9a9a"/>
<rect class="ce" x="279" y="0" width="1" height="14" fill="#9a9a9a"/>
<rect class="ce" x="374" y="0" width="1" height="14" fill="#9a9a9a"/>
<rect class="ce" x="464" y="0" width="1" height="14" fill="#9a9a9a"/>
<rect class="ce" x="526" y="0" width="1" height="14" fill="#9a9a9a"/>
<rect class="ce" x="647" y="0" width="1" height="14" fill="#9a9a9a"/>
<rect class="ce" x="714" y="0" width="1" height="14" fill="#9a9a9a"/>
<rect class="ce" x="953" y="0" width="1" height="14" fill="#9a9a9a"/>
<rect class="ce" x="1214" y="0" width="1" height="14" fill="#9a9a9a"/>
<g class="ce" fill="#b4b4b4"><rect x="283" y="0" width="3" height="1"/><rect x="283" y="2" width="3" height="1"/><rect x="283" y="4" width="3" height="1"/><rect x="283" y="6" width="3" height="1"/><rect x="283" y="8" width="3" height="1"/><rect x="283" y="10" width="3" height="1"/><rect x="283" y="12" width="3" height="1"/></g>
<g class="ce" fill="#b4b4b4"><rect x="652" y="0" width="3" height="1"/><rect x="652" y="2" width="3" height="1"/><rect x="652" y="4" width="3" height="1"/><rect x="652" y="6" width="3" height="1"/><rect x="652" y="8" width="3" height="1"/><rect x="652" y="10" width="3" height="1"/><rect x="652" y="12" width="3" height="1"/></g>
<g class="ce" fill="#b4b4b4"><rect x="958" y="0" width="3" height="1"/><rect x="958" y="2" width="3" height="1"/><rect x="958" y="4" width="3" height="1"/><rect x="958" y="6" width="3" height="1"/><rect x="958" y="8" width="3" height="1"/><rect x="958" y="10" width="3" height="1"/><rect x="958" y="12" width="3" height="1"/></g>
<rect x="-3" y="-6" width="8.2" height="16.2" fill="#fff" stroke="#3a7bc8" stroke-width="1.4"/><path d="M-2 1.5h6M-2 3.5h6M-2 5.5h6M-2 7.5h6" stroke="#b8d0f0" stroke-width="0.8"/>
<rect x="19" y="-6" width="8" height="14.5" fill="#fbfbfb" stroke="#b8b0a0" stroke-width="1"/>
<circle cx="26.4" cy="3.3" r="5.6" fill="#dce8f6" stroke="#6fa0d8" stroke-width="1.5"/><circle cx="25.5" cy="2.5" r="2.5" fill="#b8c4d4"/>
<line x1="31.2" y1="8.2" x2="35" y2="12.3" stroke="#d0a020" stroke-width="3" stroke-linecap="round"/>
<rect x="53.5" y="-4" width="11" height="13" rx="1" fill="#fff" stroke="#909090" stroke-width="1"/><path d="M55.5 2.5h5M55.5 4.5h3" stroke="#a0a0a0"/>
<path d="M57 6.7h3.8v-4.2h4.6v4.2h3.8v3.4h-3.8v3.3h-4.6v-3.3h-3.8z" fill="#22cc22" stroke="#0c8c0c" stroke-width="0.7"/>
<g stroke="#181818" stroke-width="1.15" fill="none"><path d="M72.5 1.5h5.5M75.3 -2v10M73.3 4.5l-1.3 3M77.5 4.5l1 2.5M80.3 -2v6l-1.6 4M80.3 1.5h4.2M82.8 1.5v6.5"/><path d="M85.8 1l1.2 1M86.3 3.5v4.3l1.8 -1.2M89 0.3h6.5M92.8 0.3v6.7l-2.2 1"/><path d="M98.2 -1.5h8v3.8h-8zM98.2 0.4h8M102.2 -3v11M96.5 5h11.3"/></g>
<path d="M120.3 4.5l8.5 -9.5l7.5 6.5l-7 10z" fill="#e4b030" stroke="#a87810" stroke-width="1"/><path d="M121.5 5.5l7 5.2l7 -8.5" fill="none" stroke="#fff0b0" stroke-width="1"/><path d="M124 1l4 -4.5l5 4" fill="none" stroke="#f8d870" stroke-width="1.5"/>
<rect x="152" y="-5" width="9" height="10" fill="#3088e0"/><rect x="155" y="-3" width="3.4" height="6" fill="#fff"/>
<path d="M150.5 11.2a3.4 3.4 0 0 1 0.6 -6.6a4.6 4.6 0 0 1 8.6 -0.4a3.7 3.7 0 0 1 1.8 7z" fill="#eef2fa" stroke="#8098c0" stroke-width="1"/>
<path d="M184 3.4v8a8 8 0 0 0 7.8 -8z" fill="#8cc884"/><path d="M179.8 7.6a6 6 0 0 1 0 -8.4M177.2 10a9.4 9.4 0 0 1 0 -13.2" fill="none" stroke="#6c98e0" stroke-width="1.3"/><path d="M188.2 -0.8a6 6 0 0 1 0 8.4" fill="none" stroke="#58a850" stroke-width="1.3"/><circle cx="184" cy="3.4" r="1.8" fill="#2868d8"/><path d="M184 4v7.4" stroke="#30a030" stroke-width="1.4"/>
<path d="M203.5 1h15.5l-7.5 10.7z" fill="#f0c838" stroke="#c8a010" stroke-width="0.8"/><ellipse cx="211.2" cy="-0.5" rx="7.6" ry="3.4" fill="#68a8e0" stroke="#3878c0" stroke-width="0.8"/>
<circle cx="215.3" cy="7.7" r="4.3" fill="#e02818"/><rect x="213.8" y="6.2" width="3" height="3" fill="#fff"/>
<g stroke="#181818" stroke-width="1.15" fill="none"><path d="M226 -3h7.5v10.3h-7.5zM226 0.6h7.5M226 4h7.5"/><path d="M237 -1h5M236 2.5h6.3M239.2 2.5l-2.2 4.3h5.3M244 -2h4.7v8l-1.6 1.6M246.3 -4l-2.8 10.5"/><path d="M250.8 -1h10.4M253.5 0.5l-2.2 3.2M258.5 0.5l2.7 3.2M254 2l6 6M259 2l-7.8 6.2"/><path d="M264 -4h7v4h-7zM264 -2h7M264 2.5h8.7l-1 5l-1.7 0.6M266.2 0.5l-3.2 4.2M267.6 3l-3 4.8M270 3l-2.6 4.8"/></g>
<path d="M297.5 -2v13.5M295 9.7h13.5l-2 -1.6M308.5 9.7l-2 1.6" fill="none" stroke="#505050" stroke-width="1"/><path d="M301.5 6.6h2.7v-6h2" fill="none" stroke="#209020" stroke-width="1.4"/>
<rect x="317" y="0" width="25" height="14" fill="#f9f9f9"/><rect class="ce" x="317" y="0" width="1" height="14" fill="#a8a8a8"/>
<path d="M325.5 -2v13.5M323 9.7h13.5l-2 -1.6M336.5 9.7l-2 1.6" fill="none" stroke="#505050" stroke-width="1"/><rect x="329.6" y="-6" width="4.2" height="11.4" fill="#30b030" stroke="#108010" stroke-width="0.8"/><path d="M331.7 5.5v2.2" stroke="#108010"/>
<path d="M353.5 -2v13.5M351 9.7h13.5l-2 -1.6M364.5 9.7l-2 1.6" fill="none" stroke="#505050" stroke-width="1"/><path d="M352.6 6.8c2 -3 4 -5.8 6 -5.8s3.4 2.6 5.2 4" fill="none" stroke="#309030" stroke-width="1.1"/>
<circle cx="388.8" cy="2.6" r="5.6" fill="#d4e6f8" stroke="#5c98d8" stroke-width="1.4"/><line x1="393.40000000000003" y1="7" x2="397.6" y2="10.8" stroke="#d8b020" stroke-width="3" stroke-linecap="round"/>
<circle cx="417.4" cy="2.6" r="5.6" fill="#d4e6f8" stroke="#5c98d8" stroke-width="1.4"/><line x1="422.0" y1="7" x2="426.2" y2="10.8" stroke="#d8b020" stroke-width="3" stroke-linecap="round"/>
<path d="M385.6 2h6.4M388.8 -1.2v6.4M414.2 2h6.4" stroke="#3078c8" stroke-width="1.7"/>
<g><rect x="439.5" y="-4" width="7" height="7.2" fill="#58b858"/><rect x="448" y="-4" width="7" height="7.2" fill="#3c78e0"/><rect x="439.5" y="4.5" width="7" height="7" fill="#3c78e0"/><rect x="448" y="4.5" width="7" height="7" fill="#48a830"/><path d="M441 8.5h4M449.5 8.5h4M441 0.5h4M449.5 0.5h4" stroke="#fff" stroke-width="1.6"/></g>
<rect x="469" y="0" width="25" height="14" fill="#f9f9f9"/><rect class="ce" x="469" y="0" width="1" height="14" fill="#a8a8a8"/>
<path d="M477.5 -2v13.5M475 9.7h13.5l-2 -1.6M488.5 9.7l-2 1.6" fill="none" stroke="#505050" stroke-width="1"/><path d="M482.2 1v5.8l4 -2.9z" fill="none" stroke="#28b028" stroke-width="1.2"/>
<rect x="497" y="0" width="25" height="14" fill="#f9f9f9"/><rect class="ce" x="497" y="0" width="1" height="14" fill="#a8a8a8"/>
<path d="M505.5 -2v13.5M503 9.7h13.5l-2 -1.6M516.5 9.7l-2 1.6" fill="none" stroke="#505050" stroke-width="1"/><path d="M511.7 -2v9.7" stroke="#3070c0" stroke-width="1.1"/><path d="M517 3.3h-4.4M514.6 1.3l-2.2 2l2.2 2" stroke="#d03810" stroke-width="1.1" fill="none"/>
<rect x="536.5" y="-6" width="10.5" height="15" fill="#fff" stroke="#909090"/><path d="M539 0v4h3" stroke="#707070" fill="none"/><path d="M540.3 6h3.8v-3.3h4.4v3.3h3.4v3.9h-3.4v3.8h-4.4v-3.8h-3.8z" fill="#22cc22" stroke="#0c8c0c" stroke-width="0.7"/>
<path d="M557.7 3.2h5.8l-2.9 3z" fill="#000"/>
<path d="M596.4 3.2h5.8l-2.9 3z" fill="#000"/>
<path d="M635.5 3.2h5.8l-2.9 3z" fill="#000"/>
<path d="M941.7 3.2h5.8l-2.9 3z" fill="#000"/>
<circle cx="582" cy="3.6" r="7" fill="#f4f8ff" stroke="#2468c8" stroke-width="2.4"/><path d="M582 0v4h2.6" stroke="#606060" fill="none"/>
<rect x="613.6" y="-6" width="15" height="16.3" fill="#fff" stroke="#4078c8" stroke-width="1.2"/><path d="M615.5 3l3 -1l3 0.5l3 -1.5l3 0.5" stroke="#a03020" fill="none"/><path d="M615.5 8.2l3 -1l3 1l3 -2l3 1.6" stroke="#30a030" fill="none"/><path d="M614 5.5h14.5" stroke="#4078c8"/>
<rect x="657" y="0" width="25" height="14" fill="#f9f9f9"/><rect class="ce" x="657" y="0" width="1" height="14" fill="#a8a8a8"/>
<path d="M665.6 -6v15.2l3 -2.8l2.2 4.8l1.9 -0.9l-2.2 -4.7h4z" fill="#404040"/>
<path d="M697.5 -3v15.2M689.8 4.5h15" stroke="#404040" stroke-width="1" fill="none"/>
<path d="M731.5 -4v14.8" stroke="#404040"/><path d="M754 4.5h12.2" stroke="#404040"/><path d="M781.8 11.1l11.6 -11.6" stroke="#404040"/>
<path d="M808.5 8.5l11 -9M811 11l11 -9M810.5 3.5l7.5 6M814.5 0.5l7.5 6" stroke="#505050" fill="none"/><text x="818" y="13.3" font-size="7" font-weight="bold" fill="#303030">E</text>
<path d="M836.5 0.5h13.5M836.5 4.5h13.5M836.5 8.5h9" stroke="#505050" stroke-dasharray="1 1" fill="none"/><text x="846" y="13.3" font-size="7" font-weight="bold" fill="#303030">F</text>
<text x="867.3" y="8.6" font-size="13.5" fill="#505050" textLength="8.6" lengthAdjust="spacingAndGlyphs">A</text>
<rect x="894.5" y="-4" width="10.8" height="14.2" fill="none" stroke="#606060" stroke-dasharray="1 1"/><text x="896.5" y="9" font-size="11.5" fill="#404040">T</text>
<path d="M922 0.5l2.6 3l4 -5" stroke="#404040" stroke-width="1.5" fill="none"/><path d="M927 5.3l2.6 -2.6l2.6 2.6l-2.6 2.6zM930.5 8.3l2.3 -2.3l2.3 2.3l-2.3 2.3z" fill="#404040"/><path d="M924 5.5l3 3" stroke="#404040" stroke-width="1.4"/>
<rect x="1131" y="0" width="26" height="14" fill="#f9f9f9"/><rect class="ce" x="1131" y="0" width="1" height="14" fill="#a8a8a8"/>
<text x="968.5" y="7.5" font-size="9.5" fill="#404040" textLength="13" lengthAdjust="spacingAndGlyphs">M1</text>
<text x="996.5" y="7.5" font-size="9.5" fill="#404040" textLength="13" lengthAdjust="spacingAndGlyphs">M5</text>
<text x="1022.5" y="7.5" font-size="9.5" fill="#404040" textLength="18" lengthAdjust="spacingAndGlyphs">M15</text>
<text x="1050" y="7.5" font-size="9.5" fill="#404040" textLength="18" lengthAdjust="spacingAndGlyphs">M30</text>
<text x="1081.5" y="7.5" font-size="9.5" fill="#404040" textLength="12" lengthAdjust="spacingAndGlyphs">H1</text>
<text x="1109" y="7.5" font-size="9.5" fill="#404040" textLength="12" lengthAdjust="spacingAndGlyphs">H4</text>
<text x="1137.5" y="7.5" font-size="9.5" fill="#404040" textLength="12" lengthAdjust="spacingAndGlyphs">D1</text>
<text x="1165" y="7.5" font-size="9.5" fill="#404040" textLength="14" lengthAdjust="spacingAndGlyphs">W1</text>
<text x="1191.5" y="7.5" font-size="9.5" fill="#404040" textLength="15" lengthAdjust="spacingAndGlyphs">MN</text>
<circle cx="1683" cy="0" r="4" fill="#f0f0f0" stroke="#2868d0" stroke-width="1.8"/><line x1="1680" y1="3.5" x2="1677" y2="8" stroke="#2868d0" stroke-width="2"/>
<path d="M1702 4a7 5 0 1 1 6 6l-4 2.5l0.5 -3.5z" fill="#f8f8f8" stroke="#b0b0b0" stroke-width="1"/>
<circle cx="1714" cy="0" r="8" fill="#e03020"/><text x="1711.5" y="5" font-size="10" font-family="Liberation Serif" fill="#fff">1</text>
<path d="M1423 21h9l-4.5 5z" fill="#b0b0b0"/>
<path d="M0 28.4L2.8 31.2L0 31.2Z" fill="#000"/>
<text x="8.2" y="32" font-size="9.8" fill="#000" textLength="67.9" lengthAdjust="spacingAndGlyphs">AUDUSD-,Daily</text>
<text x="82.5" y="32" font-size="9.8" fill="#000" textLength="31.9" lengthAdjust="spacingAndGlyphs">0.77228</text>
<text x="118.4" y="32" font-size="9.8" fill="#000" textLength="31.9" lengthAdjust="spacingAndGlyphs">0.77707</text>
<text x="154.3" y="32" font-size="9.8" fill="#000" textLength="31.9" lengthAdjust="spacingAndGlyphs">0.77119</text>
<text x="190.5" y="32" font-size="9.8" fill="#000" textLength="31.9" lengthAdjust="spacingAndGlyphs">0.77477</text>
<text x="-3.6" y="587.7" font-size="9.7" fill="#000" textLength="64.7" lengthAdjust="spacingAndGlyphs">MACD(12,26,9)</text>
<text x="65.7" y="587.7" font-size="9.7" fill="#000" textLength="36.6" lengthAdjust="spacingAndGlyphs">0.001180</text>
<text x="106.5" y="587.7" font-size="9.7" fill="#000" textLength="40.3" lengthAdjust="spacingAndGlyphs">-0.000212</text>
<text x="-5.3" y="760" font-size="9.7" fill="#000" textLength="33.1" lengthAdjust="spacingAndGlyphs">RSI(14)</text>
<text x="31.5" y="760" font-size="9.7" fill="#000" textLength="32.4" lengthAdjust="spacingAndGlyphs">58.6309</text>
<rect x="0" y="38" width="216" height="67" fill="#fff"/>
<g class="ce">
<rect x="0" y="40" width="47" height="25" fill="url(#gTab)"/>
<rect x="0" y="40" width="47" height="1" fill="#c41818"/><rect x="46" y="40" width="1" height="25" fill="#c41818"/>
<rect x="162" y="40" width="52" height="25" fill="url(#gTab)"/>
<rect x="162" y="40" width="52" height="1" fill="#c41818"/><rect x="162" y="40" width="1" height="25" fill="#c41818"/><rect x="213" y="40" width="1" height="25" fill="#c41818"/>
<rect x="0" y="64" width="104" height="40" fill="url(#gBig)"/><rect x="103" y="64" width="1" height="40" fill="#a80808"/><rect x="47" y="64" width="57" height="1" fill="#c41818"/>
<rect x="106" y="64" width="108" height="40" fill="url(#gBig)"/><rect x="106" y="64" width="1" height="40" fill="#a80808"/><rect x="213" y="64" width="1" height="40" fill="#a80808"/><rect x="106" y="64" width="57" height="1" fill="#c41818"/>
<rect x="0" y="63" width="43" height="1" fill="#b01010"/><rect x="0" y="64" width="43" height="1" fill="#f07070"/>
<rect x="166" y="63" width="44" height="1" fill="#b01010"/><rect x="166" y="64" width="44" height="1" fill="#f07070"/>
<rect x="49.5" y="40.5" width="110" height="21" fill="#fff" stroke="#a8acb4" stroke-width="1"/>
<rect x="51" y="42" width="18" height="18" fill="url(#gBtn)"/><rect x="70" y="41" width="1" height="20" fill="#a8acb4"/>
<rect x="140" y="42" width="18" height="18" fill="url(#gBtn)"/><rect x="138" y="41" width="1" height="20" fill="#a8acb4"/>
</g>
<path d="M56.8 49.3h5.4l-2.7 3z" fill="#4060c8"/><path d="M145.8 52.3h5.4l-2.7 -3z" fill="#4060c8"/>
<text x="111.6" y="54.8" font-size="12" fill="#000" textLength="22.8" lengthAdjust="spacingAndGlyphs">1.00</text>
<text x="7.2" y="55.7" font-size="13" fill="#fff" textLength="25.7" lengthAdjust="spacingAndGlyphs">SELL</text>
<text x="175.6" y="55.7" font-size="13" fill="#fff" textLength="23.1" lengthAdjust="spacingAndGlyphs">BUY</text>
<text x="15.1" y="94.8" font-size="13.2" font-weight="bold" fill="#fff" textLength="23.5" lengthAdjust="spacingAndGlyphs">0.77</text>
<text x="124.6" y="94.8" font-size="13.2" font-weight="bold" fill="#fff" textLength="23.5" lengthAdjust="spacingAndGlyphs">0.77</text>
<text x="41.2" y="94.8" font-size="34.8" fill="#fff" textLength="35.6" lengthAdjust="spacingAndGlyphs">47</text>
<text x="153" y="94.8" font-size="34.8" fill="#fff" textLength="34.6" lengthAdjust="spacingAndGlyphs">55</text>
<text x="81.6" y="78.9" font-size="12" font-weight="bold" fill="#fff" textLength="7" lengthAdjust="spacingAndGlyphs">7</text>
<text x="192.8" y="79" font-size="12" font-weight="bold" fill="#fff" textLength="7.4" lengthAdjust="spacingAndGlyphs">6</text>
<g fill="none" stroke="#3cff00" stroke-width="1.25" stroke-linecap="square">
<path d="M1418.8 166.3L1411.3 172.7M1417.7 168.9H1426.7L1411.3 177.6M1418 171.9L1420.3 174.2M1422.6 174.2L1415 180.6M1421 176.8H1427.8L1411.3 184.7M1418.8 179.8L1420.7 182"/>
<path d="M1440.6 166.3L1441.7 168.2M1433.1 171.2L1433.5 169.3H1450L1449.2 171.2M1440.6 170.4L1434.6 174.9M1444 170.4L1449.6 174.9M1435.7 176.8H1448.1M1441.7 176.8V183.6M1432.3 183.6H1450.8"/>
<path d="M1454.5 169.3H1460.2M1457.9 166.3L1455.3 174.9H1462.4M1458.3 171V184.7M1454.1 180.2L1462.4 178.7M1462.8 168.5H1472.2M1461.7 173H1472.9M1466.9 166.3L1465.4 176.8H1470.7L1465.4 180.6M1465.4 181L1469.9 184.3"/>
<path d="M1476.3 171.2H1482.3M1479.7 166.3V184.7L1477.4 183.6M1476.3 177.6L1482.3 175.3M1493.6 166.7L1485.7 168.9V177.6L1481.6 184.7M1485.7 173H1494.7M1491.4 173V184.7"/>
<path d="M1507.1 166.3V173.4M1507.1 169.3H1515.4M1502.6 173.4H1513.5V179.1H1502.6ZM1501.1 180.9L1499.2 184.3M1505.3 181.3L1506 183.9M1509.4 181.3L1510.9 183.9M1513.9 180.9L1516.2 183.9"/>
</g>
</svg>
</body></html>
